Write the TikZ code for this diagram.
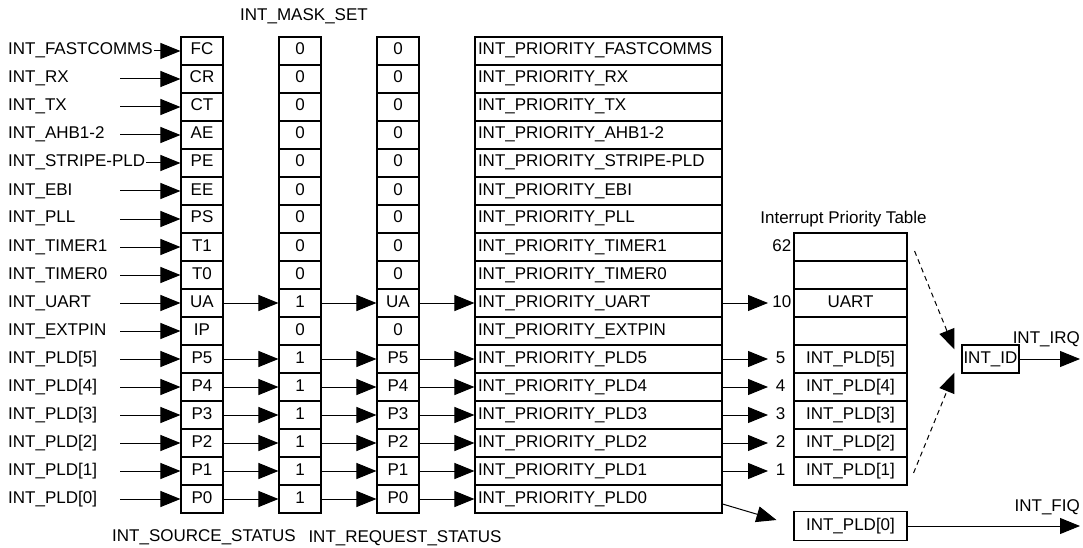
\documentclass[tikz,border=0pt]{standalone}
\usepackage{fontspec}
\setmainfont{Liberation Sans}
\usetikzlibrary{arrows.meta, positioning}
\newcommand{\figfont}{\fontsize{17}{20.4}\selectfont}
\tikzset{
  cell/.style={draw, line width=1.1pt, minimum height=28pt, inner sep=0pt, text height=12pt, text depth=4pt},
  bitcell/.style={cell, minimum width=42pt},
  pricell/.style={cell, text width=241pt, inner xsep=3pt, align=left},
  tabcell/.style={cell, minimum width=113pt},
  numtext/.style={inner sep=0pt, text height=12pt, text depth=4pt, anchor=east},
  sig/.style={-{Triangle[length=20pt, width=16pt]}, line width=1pt},
  dsig/.style={sig, dash pattern=on 5pt off 4pt}
}

\begin{document}
\begin{tikzpicture}[x=1pt, y=1pt, font=\figfont]
  \useasboundingbox (0,0) rectangle (1083,547);

  % Register rows
  \foreach \i/\src/\code/\msk/\req/\pri in {
      1/INT\_FASTCOMMS/FC/0/0/FASTCOMMS, 2/INT\_RX/CR/0/0/RX, 3/INT\_TX/CT/0/0/TX,
      4/INT\_AHB1-2/AE/0/0/AHB1-2, 5/INT\_STRIPE-PLD/PE/0/0/STRIPE-PLD, 6/INT\_EBI/EE/0/0/EBI,
      7/INT\_PLL/PS/0/0/PLL, 8/INT\_TIMER1/T1/0/0/TIMER1, 9/INT\_TIMER0/T0/0/0/TIMER0,
      10/INT\_UART/UA/1/UA/UART, 11/INT\_EXTPIN/IP/0/0/EXTPIN,
      12/{INT\_PLD[5]}/P5/1/P5/PLD5, 13/{INT\_PLD[4]}/P4/1/P4/PLD4, 14/{INT\_PLD[3]}/P3/1/P3/PLD3,
      15/{INT\_PLD[2]}/P2/1/P2/PLD2, 16/{INT\_PLD[1]}/P1/1/P1/PLD1, 17/{INT\_PLD[0]}/P0/1/P0/PLD0} {
    \node[anchor=base west, inner xsep=1pt] (l\i) at (7, {492-28*(\i-1)}) {\src};
    \node[bitcell] (s\i) at (202, {496-28*(\i-1)}) {\code};
    \node[bitcell] (m\i) at (300, {496-28*(\i-1)}) {\msk};
    \node[bitcell] (r\i) at (398, {496-28*(\i-1)}) {\req};
    \node[pricell] (p\i) at (598.5, {496-28*(\i-1)}) {INT\_PRIORITY\_\pri};
  }

  % Column titles
  \node[anchor=base] (masklbl) at ([xshift=4pt, yshift=16pt]m1.north) {INT\_MASK\_SET};
  \node[anchor=base] (srclbl) at ([xshift=2pt, yshift=-28pt]s17.south) {INT\_SOURCE\_STATUS};
  \node[anchor=base] (reqlbl) at ([xshift=7pt, yshift=-29pt]r17.south) {INT\_REQUEST\_STATUS};

  % Inputs
  \coordinate (inx) at (120,0);
  \foreach \i in {2,3,4,6,7,8,9,10,11,12,13,14,15,16,17}
    \draw[sig] (inx |- s\i) -- (s\i);
  \foreach \i in {1,5}
    \draw[sig] (l\i.east |- s\i) -- (s\i);

  % Pending requests
  \foreach \i in {10,12,13,14,15,16,17} {
    \draw[sig] (s\i) -- (m\i);
    \draw[sig] (m\i) -- (r\i);
    \draw[sig] (r\i) -- (p\i);
  }

  % Interrupt Priority Table
  \foreach \i/\txt in {8/{}, 9/{}, 10/UART, 11/{}, 12/{INT\_PLD[5]}, 13/{INT\_PLD[4]},
      14/{INT\_PLD[3]}, 15/{INT\_PLD[2]}, 16/{INT\_PLD[1]}}
    \node[tabcell] (t\i) at (850.5, {496-28*(\i-1)}) {\txt};
  \foreach \i/\n/\dx in {8/62/2, 10/10/2, 12/5/8, 13/4/8, 14/3/8, 15/2/8, 16/1/8}
    \node[numtext] (n\i) at ([xshift=-\dx pt]t\i.west) {\n};
  \node[anchor=base] (ttl) at ([xshift=-7pt, yshift=9pt]t8.north) {Interrupt Priority Table};

  \coordinate (tipx) at (768,0);
  \foreach \i in {10,12,13,14,15,16}
    \draw[sig] (p\i) -- (p\i -| tipx);

  % IRQ path
  \node[cell, text width=54pt, inner xsep=1.5pt, align=left] (id) at (990.5, 188) {INT\_ID};
  \draw[dsig] ([xshift=7pt, yshift=-4pt]t8.east) -- ([xshift=-7pt, yshift=-5pt]id.north west);
  \draw[dsig] ([xshift=6pt, yshift=-2pt]t16.east) -- ([xshift=-7pt, yshift=1pt]id.south west);
  \coordinate (irq) at (1080, 188);
  \draw[sig] (id) -- (irq);
  \node[anchor=base east, inner sep=0pt] (irqlbl) at ([yshift=16pt]irq) {INT\_IRQ};

  % FIQ path
  \node[tabcell, minimum height=29pt] (f0) at (850.5, 21) {INT\_PLD[0]};
  \draw[sig] ([yshift=-5pt]p17.east) -- ([xshift=-17pt, yshift=6pt]f0.west);
  \coordinate (fiq) at (1080, 21);
  \draw[sig] (f0) -- (fiq);
  \node[anchor=base east, inner sep=0pt] (fiqlbl) at ([yshift=15pt]fiq) {INT\_FIQ};
\end{tikzpicture}
\end{document}
